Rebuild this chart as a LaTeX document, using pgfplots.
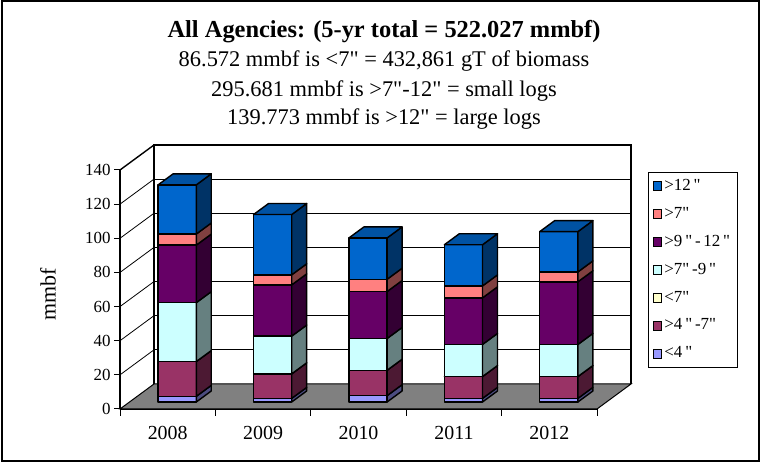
\documentclass[border=0pt]{standalone}
\usepackage{fontspec}
\setmainfont{Liberation Serif}[Ligatures=TeXOff]
\usepackage{pgfplots}
\usepackage{pgfplotstable}
\pgfplotsset{compat=1.18}

\definecolor{cA}{HTML}{9999FF}\definecolor{cAs}{HTML}{4C4C80}
\definecolor{cB}{HTML}{993366}\definecolor{cBs}{HTML}{4C1933}
\definecolor{cC}{HTML}{FFFFCC}\definecolor{cCs}{HTML}{808066}
\definecolor{cD}{HTML}{CCFFFF}\definecolor{cDs}{HTML}{668080}
\definecolor{cE}{HTML}{660066}\definecolor{cEs}{HTML}{330033}
\definecolor{cF}{HTML}{FF8080}\definecolor{cFs}{HTML}{804040}
\definecolor{cG}{HTML}{0066CC}\definecolor{cGs}{HTML}{003366}
\definecolor{cGt}{HTML}{0052A3}
\definecolor{floorgray}{HTML}{808080}

% segment values per year (bottom to top): <4", >4"-7", <7", >7"-9", >9"-12", >7", >12"
\pgfplotstableread{
year s1 s2 s3 s4 s5 s6 s7
2008 3.3 20.4 0 34.5 33.7 6.5 28.8
2009 2.1 14.4 0 22.1 30.0 5.9 35.3
2010 3.7 14.9 0 18.6 27.5 7.2 24.2
2011 2.1 12.8 0 18.8 27.3 7.0 24.1
2012 2.1 12.8 0 18.8 36.7 5.8 23.6
}\bardata

\newcommand{\drawseg}[4]{%
  \pgfplotstablegetelem{#1}{#2}\of\bardata
  \pgfmathsetmacro\yhi{\ylo+\pgfplotsretval}%
  \pgfmathsetmacro\ylob{\ylo+6.45}%
  \pgfmathsetmacro\yhib{\yhi+6.45}%
  \edef\mytmp{%
    \noexpand\addplot[forget plot,fill=#3,draw=black,line width=1.4bp,line join=round] coordinates {(\xL,\ylo) (\xR,\ylo) (\xR,\yhi) (\xL,\yhi)} -- cycle;
    \noexpand\addplot[forget plot,fill=#4,draw=black,line width=1.4bp,line join=round] coordinates {(\xR,\ylo) (\xRb,\ylob) (\xRb,\yhib) (\xR,\yhi)} -- cycle;
  }\mytmp
  \global\let\ylo\yhi
}
\newcommand{\drawbar}[1]{%
  \pgfmathsetmacro\xL{#1+0.5+0.0998-0.2}%
  \pgfmathsetmacro\xR{\xL+0.4}%
  \pgfmathsetmacro\xRb{\xR+0.157}%
  \pgfmathsetmacro\xLb{\xL+0.157}%
  \gdef\ylo{4.1}%
  \drawseg{#1}{s1}{cA}{cAs}%
  \drawseg{#1}{s2}{cB}{cBs}%
  \drawseg{#1}{s3}{cC}{cCs}%
  \drawseg{#1}{s4}{cD}{cDs}%
  \drawseg{#1}{s5}{cE}{cEs}%
  \drawseg{#1}{s6}{cF}{cFs}%
  \drawseg{#1}{s7}{cG}{cGs}%
  \pgfmathsetmacro\yhib{\ylo+6.45}%
  \edef\mytmp{\noexpand\addplot[forget plot,fill=cGt,draw=black,line width=1.4bp,line join=round] coordinates {(\xL,\ylo) (\xR,\ylo) (\xRb,\yhib) (\xLb,\yhib)} -- cycle;}\mytmp
}

\begin{document}
\begin{tikzpicture}[x=1bp,y=1bp]
\path[use as bounding box] (0,0) rectangle (761,463);
\draw[line width=1.3bp] (2,2) rectangle (759,462);

\node[anchor=base,font=\fontsize{24.5}{24.5}\selectfont\bfseries] at (384,425.7) {All Agencies: (5-yr total = 522.027 mmbf)};
\node[anchor=base,font=\fontsize{22.5}{22.5}\selectfont] at (384,396.3) {86.572 mmbf is <7" = 432,861 gT of biomass};
\node[anchor=base,font=\fontsize{22.5}{22.5}\selectfont] at (384,366.3) {295.681 mmbf is >7"-12" = small logs};
\node[anchor=base,font=\fontsize{22.5}{22.5}\selectfont] at (384,338) {139.773 mmbf is >12" = large logs};

\begin{axis}[
  at={(120bp,54bp)}, anchor=south west,
  scale only axis, width=477bp, height=239bp,
  xmin=0, xmax=5, ymin=0, ymax=140, clip=false,
  axis x line*=bottom, axis y line*=left,
  axis line style={line width=1.5bp,-},
  every outer x axis line/.append style={-},
  every outer y axis line/.append style={-},
  tick align=outside, major tick length=6bp, minor tick length=7bp,
  tick style={black,line width=1bp},
  ytick={0,20,...,140},
  xtick={0.5,1.5,2.5,3.5,4.5},
  xticklabels={2008,2009,2010,2011,2012},
  minor xtick={0,1,2,3,4,5},
  major x tick style={draw=none},
  /pgf/number format/assume math mode=true,
  yticklabel style={font=\fontsize{17}{17}\selectfont},
  xticklabel style={font=\fontsize{20}{20}\selectfont,yshift=-8bp},
  ylabel={mmbf},
  ylabel style={at={(axis description cs:-0.151,0.481)},anchor=center,font=\fontsize{22}{22}\selectfont},
  legend style={at={(1.107,0.9916)},anchor=north west,draw=black,line width=0.8bp,
    font=\fontsize{17}{17}\selectfont,inner xsep=5bp,inner ysep=5bp,row sep=9.9bp,
    nodes={inner sep=2bp,text height=11bp,text depth=3bp},cells={anchor=west}},
  legend image code/.code={\draw[#1,draw=black,line width=1bp] (0bp,-4.5bp) rectangle (8bp,4.5bp);},
]
\addlegendimage{fill=cG}\addlegendentry{>12\,"}
\addlegendimage{fill=cF}\addlegendentry{>7"}
\addlegendimage{fill=cE}\addlegendentry{>9\,"\,-\,12\,"}
\addlegendimage{fill=cD}\addlegendentry{>7"\,-9\,"}
\addlegendimage{fill=cC}\addlegendentry{<7"}
\addlegendimage{fill=cB}\addlegendentry{>4\,"\,-7"}
\addlegendimage{fill=cA}\addlegendentry{<4\,"}

% floor
\addplot[forget plot,fill=floorgray,draw=black,line width=1bp] coordinates {(0,0) (5,0) (5.3564,14.65) (0.3564,14.65)} -- cycle;
% back wall grid lines
\addplot[forget plot,black,line width=0.8bp] coordinates {(0.3564,34.65) (5.3564,34.65)};
\addplot[forget plot,black,line width=0.8bp] coordinates {(0.3564,54.65) (5.3564,54.65)};
\addplot[forget plot,black,line width=0.8bp] coordinates {(0.3564,74.65) (5.3564,74.65)};
\addplot[forget plot,black,line width=0.8bp] coordinates {(0.3564,94.65) (5.3564,94.65)};
\addplot[forget plot,black,line width=0.8bp] coordinates {(0.3564,114.65) (5.3564,114.65)};
\addplot[forget plot,black,line width=0.8bp] coordinates {(0.3564,134.65) (5.3564,134.65)};
% left wall lines
\addplot[forget plot,black,line width=0.8bp] coordinates {(0,20) (0.3564,34.65)};
\addplot[forget plot,black,line width=0.8bp] coordinates {(0,40) (0.3564,54.65)};
\addplot[forget plot,black,line width=0.8bp] coordinates {(0,60) (0.3564,74.65)};
\addplot[forget plot,black,line width=0.8bp] coordinates {(0,80) (0.3564,94.65)};
\addplot[forget plot,black,line width=0.8bp] coordinates {(0,100) (0.3564,114.65)};
\addplot[forget plot,black,line width=0.8bp] coordinates {(0,120) (0.3564,134.65)};
\addplot[forget plot,black,line width=1.4bp] coordinates {(0,140) (0.3564,154.65)};
% back wall border
\addplot[forget plot,black,line width=1.4bp] coordinates {(0.3564,14.65) (0.3564,154.65) (5.3564,154.65) (5.3564,14.65)};

\drawbar{0}
\drawbar{1}
\drawbar{2}
\drawbar{3}
\drawbar{4}
\end{axis}
\end{tikzpicture}
\end{document}
